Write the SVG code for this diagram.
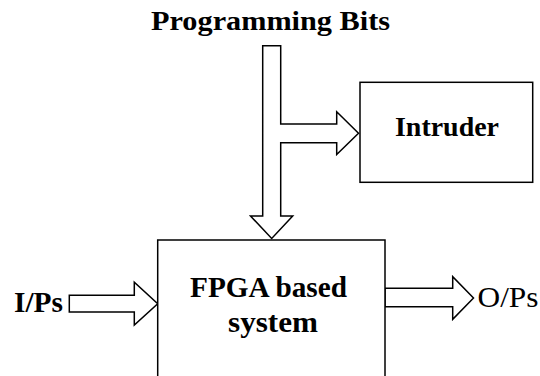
<svg xmlns="http://www.w3.org/2000/svg" width="540" height="376" viewBox="0 0 540 376">
  <style>
    .box { fill: #fff; stroke: #000; stroke-width: 1.5; }
    .arrow { fill: #fff; stroke: #000; stroke-width: 1.5; stroke-linejoin: miter; }
    text { font-family: 'Liberation Serif', 'DejaVu Serif', serif; fill: #000; }
    .b { font-weight: bold; }
  </style>
  <rect width="540" height="376" fill="#fff"/>

  <!-- block arrows -->
  <g id="connectors">
    <!-- programming bits: down into FPGA, branch right to intruder -->
    <polygon class="arrow" points="262.7,45.7 280.7,45.7 280.7,124 336.7,124 336.7,111.7 358.5,133.3 336.7,154.5 336.7,142.7 280.7,142.7 280.7,216 292.7,216 271.7,238.5 250.5,216 262.7,216"/>
    <!-- inputs -->
    <polygon class="arrow" points="69.3,295.3 134.3,295.3 134.3,282.3 157.7,303.7 134.3,325 134.3,312 69.3,312"/>
    <!-- outputs -->
    <polygon class="arrow" points="385,288.3 452.7,288.3 452.7,276.7 473.5,298 452.7,319.3 452.7,306.7 385,306.7"/>
  </g>

  <g id="programming-bits">
    <text class="b" font-family="Liberation Serif, serif" x="151" y="30" font-size="28" textLength="239" lengthAdjust="spacingAndGlyphs">Programming Bits</text>
  </g>

  <g id="intruder">
    <rect class="box" x="360" y="82.3" width="172.7" height="100"/>
    <text class="b" font-family="Liberation Serif, serif" x="395" y="136" font-size="27" textLength="104" lengthAdjust="spacingAndGlyphs">Intruder</text>
  </g>

  <g id="fpga">
    <rect class="box" x="157.7" y="240" width="227.3" height="140"/>
    <text class="b" font-family="Liberation Serif, serif" x="190" y="297" font-size="29" textLength="157" lengthAdjust="spacingAndGlyphs">FPGA based</text>
    <text class="b" font-family="Liberation Serif, serif" x="228" y="332" font-size="29" textLength="90" lengthAdjust="spacingAndGlyphs">system</text>
  </g>

  <g id="inputs">
    <text class="b" font-family="Liberation Serif, serif" x="14" y="311.5" font-size="29" textLength="49" lengthAdjust="spacingAndGlyphs">I/Ps</text>
  </g>

  <g id="outputs">
    <text font-family="Liberation Serif, serif" x="477.5" y="307" font-size="30" textLength="61" lengthAdjust="spacingAndGlyphs">O/Ps</text>
  </g>
</svg>
